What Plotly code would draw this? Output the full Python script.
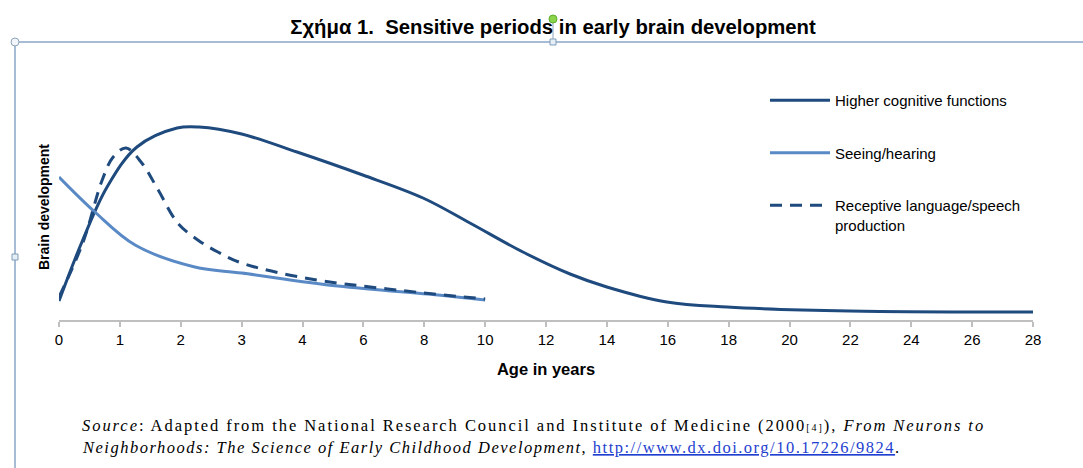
import numpy as np
import plotly.graph_objects as go

# ---- data (ages in years, brain development in arbitrary units) ----
tick_ages = [0, 1, 2, 3, 4, 6, 8, 10, 12, 14, 16, 18, 20, 22, 24, 26, 28]
tick_labels = [str(a) for a in tick_ages]

higher_age = [0.0, 0.39, 0.79, 1.28, 1.94, 2.3, 3.0, 3.91, 5.98, 7.96, 9.5, 11.24, 12.79,
              14.0, 15.97, 17.95, 21.98, 28.0]
higher_val = [19, 80, 133, 173, 192, 193, 186, 168, 145, 122, 97, 68, 46,
              33, 18, 13, 9, 8]

seeing_age = [0.0, 0.59, 1.25, 2.23, 3.0, 5.16, 8.45, 10.0]
seeing_val = [143, 108, 75, 53, 47, 34, 25, 20]

lang_age = [0.0, 0.39, 0.71, 0.89, 1.1, 1.36, 1.63, 1.95, 2.28, 2.61, 3.0, 4.08, 6.8, 10.0]
lang_val = [23, 77, 140, 163, 172, 157, 130, 97, 80, 68, 57, 42, 31, 21]

series_names = ["Higher cognitive functions", "Seeing/hearing",
                "Receptive language/speech<br>production"]

# ---- styles ----
DARK = "#1F4A7E"
LIGHT = "#5A8AC6"
W, H = 1083, 468
L, R, T, B = 59, 50, 60, 148
SANS = "Liberation Sans, Arial, sans-serif"
SERIF = "Liberation Serif, Times New Roman, serif"

idx = np.arange(len(tick_ages))


def pos(ages):
    # the age axis is evenly spaced per tick label (0,1,2,3,4,6,8,...)
    return np.interp(ages, tick_ages, idx)


fig = go.Figure()
fig.add_trace(go.Scatter(x=pos(higher_age), y=higher_val, mode="lines", name=series_names[0],
                         line=dict(color=DARK, width=3, shape="spline", smoothing=1.0),
                         legendgroup="a"))
fig.add_trace(go.Scatter(x=pos(seeing_age), y=seeing_val, mode="lines", name=series_names[1],
                         line=dict(color=LIGHT, width=3, shape="spline", smoothing=1.0),
                         legendgroup="b"))
fig.add_trace(go.Scatter(x=pos(lang_age), y=lang_val, mode="lines", name=series_names[2],
                         line=dict(color=DARK, width=3, dash="12px,8px", shape="spline", smoothing=1.0),
                         legendgroup="c"))


def px_x(p):
    return (p - L) / (W - L - R)


def px_y(p):
    return (H - B - p) / (H - T - B)


shapes = [
    dict(type="line", xref="paper", yref="paper", x0=px_x(15), x1=px_x(1083), y0=px_y(42), y1=px_y(42),
         line=dict(color="#4F7BAA", width=1)),
    dict(type="line", xref="paper", yref="paper", x0=px_x(15), x1=px_x(15), y0=px_y(42), y1=px_y(468),
         line=dict(color="#4F7BAA", width=1)),
    dict(type="circle", xref="paper", yref="paper", x0=px_x(11), x1=px_x(19), y0=px_y(38), y1=px_y(46),
         line=dict(color="#8EA4BC", width=1), fillcolor="#F2F6FA"),
    dict(type="rect", xref="paper", yref="paper", x0=px_x(550), x1=px_x(556), y0=px_y(39), y1=px_y(45),
         line=dict(color="#7F9DBA", width=1), fillcolor="#E6EEF6"),
    dict(type="rect", xref="paper", yref="paper", x0=px_x(12), x1=px_x(18), y0=px_y(254), y1=px_y(260),
         line=dict(color="#7F9DBA", width=1), fillcolor="#E6EEF6"),
    dict(type="line", xref="paper", yref="paper", x0=px_x(553), x1=px_x(553), y0=px_y(22), y1=px_y(39),
         line=dict(color="#8EA4BC", width=1)),
    dict(type="circle", xref="paper", yref="paper", x0=px_x(549), x1=px_x(557), y0=px_y(15), y1=px_y(23),
         line=dict(color="#5FAE2E", width=1), fillcolor="#8BD34A"),
]

annotations = [
    dict(text="<b>Brain development</b>", xref="paper", yref="paper", x=px_x(44), y=px_y(207),
         textangle=-90, showarrow=False, font=dict(family=SANS, size=14, color="black"),
         xanchor="center", yanchor="middle"),
    dict(text="<span style='letter-spacing:1.95px'><i>Source</i>: Adapted from the National Research Council and Institute of Medicine "
              "(2000<span style='font-size:10px'>[4]</span>), <i>From Neurons to</i></span>",
         xref="paper", yref="paper", x=px_x(80), y=px_y(426), xanchor="left", yanchor="middle",
         align="left", showarrow=False, font=dict(family=SERIF, size=16.5, color="black")),
    dict(text="<span style='letter-spacing:1.5px'><i>Neighborhoods: The Science of Early Childhood Development</i>, "
              "<span style='color:#1F3FD0'><u>http://www.dx.doi.org/10.17226/9824</u></span>.</span>",
         xref="paper", yref="paper", x=px_x(80), y=px_y(447), xanchor="left", yanchor="middle",
         align="left", showarrow=False, font=dict(family=SERIF, size=16.5, color="black")),
]

fig.update_layout(
    width=W, height=H,
    margin=dict(l=L, r=R, t=T, b=B, autoexpand=False),
    paper_bgcolor="white", plot_bgcolor="white",
    title=dict(text="<b>Σχήμα 1.  Sensitive periods in early brain development</b>",
               x=px_x(553), xanchor="center", xref="paper", y=1 - 27 / H, yanchor="middle",
               font=dict(family=SANS, size=20.3, color="black")),
    xaxis=dict(range=[0, 16], tickmode="array", tickvals=idx, ticktext=tick_labels,
               showgrid=False, zeroline=False, showline=True, linecolor="#BFBFBF", linewidth=1.5,
               ticks="outside", ticklen=5, tickcolor="#BFBFBF", tickwidth=1.5,
               tickfont=dict(family=SANS, size=15, color="black"),
               title=dict(text="<b>Age in years</b>", standoff=17,
                          font=dict(family=SANS, size=16.5, color="black"))),
    yaxis=dict(range=[0, 260], showgrid=False, zeroline=False, showline=False,
               showticklabels=False, ticks=""),
    legend=dict(x=px_x(765), y=px_y(84), xanchor="left", yanchor="top",
                font=dict(family=SANS, size=15, color="black"), bgcolor="rgba(0,0,0,0)",
                itemwidth=60, tracegroupgap=30, valign="top", traceorder="grouped"),
    shapes=shapes, annotations=annotations, showlegend=True,
)

fig.write_html("out.html", config={"displayModeBar": False},
               post_script="document.body.style.margin='0';")
